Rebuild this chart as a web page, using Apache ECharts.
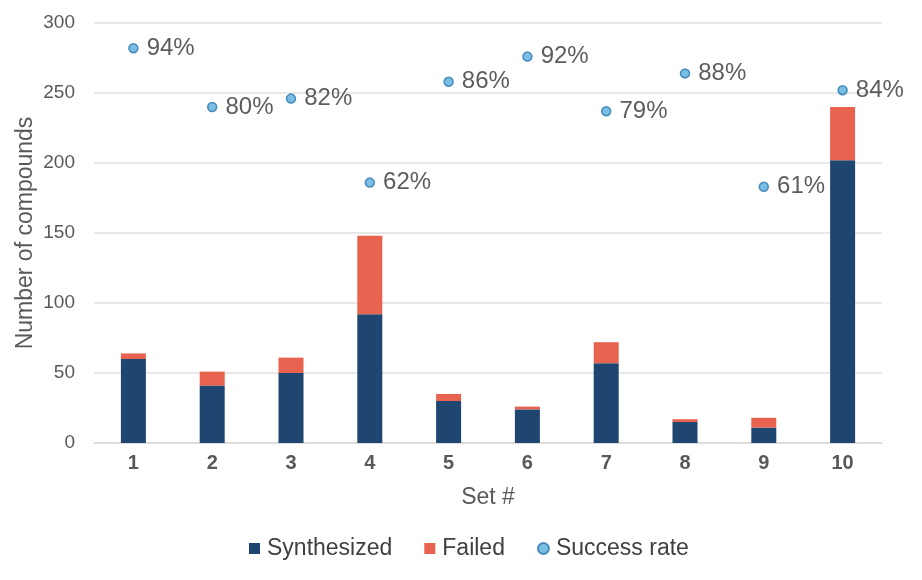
<!DOCTYPE html>
<html>
<head>
<meta charset="utf-8">
<script src="https://cdn.jsdelivr.net/npm/echarts@6/dist/echarts.min.js"></script>
<style>html,body{margin:0;padding:0;background:#fff}#c{width:922px;height:580px}</style>
</head>
<body>
<div id="c"></div>
<script>
var categories = ['1','2','3','4','5','6','7','8','9','10'];
var synthesized = [60, 41, 50, 92, 30, 24, 57, 15, 11, 202];
var failed = [4, 10, 11, 56, 5, 2, 15, 2, 7, 38];
var successRate = [0.94, 0.80, 0.82, 0.62, 0.86, 0.92, 0.79, 0.88, 0.61, 0.84];
var yTicks = [0, 50, 100, 150, 200, 250, 300];

var font = '"Liberation Sans", Arial, sans-serif';
var chart = echarts.init(document.getElementById('c'));
chart.setOption({
  animation: false,
  textStyle: { fontFamily: font },
  grid: { left: 94, right: 40, top: 23, bottom: 137 },
  legend: {
    data: [
      { name: 'Synthesized', icon: 'rect' },
      { name: 'Failed', icon: 'rect' },
      { name: 'Success rate', icon: 'circle' }
    ],
    bottom: 15,
    left: 244,
    itemWidth: 11,
    itemHeight: 11,
    itemGap: 32,
    textStyle: { fontSize: 23, color: '#404040', fontFamily: font, padding: [0, 0, 0, 2] }
  },
  xAxis: {
    type: 'category',
    data: categories,
    name: 'Set #',
    nameLocation: 'middle',
    nameGap: 43,
    nameMoveOverlap: false,
    nameTextStyle: { fontSize: 23, color: '#595959', fontFamily: font },
    axisLine: { lineStyle: { color: '#d9d9d9', width: 1.5 } },
    axisTick: { show: false },
    axisLabel: { fontSize: 20, fontWeight: 'bold', color: '#595959', margin: 10, fontFamily: font }
  },
  yAxis: [{
    type: 'value',
    min: yTicks[0],
    max: yTicks[yTicks.length - 1],
    interval: 50,
    name: 'Number of compounds',
    nameLocation: 'middle',
    nameGap: 57,
    nameMoveOverlap: false,
    nameTextStyle: { fontSize: 23, color: '#595959', fontFamily: font },
    axisLine: { show: false },
    axisTick: { show: false },
    axisLabel: { fontSize: 19, color: '#595959', margin: 19, fontFamily: font },
    splitLine: { lineStyle: { color: '#e0e0e0', width: 1.5 } }
  }, {
    type: 'value',
    min: 0,
    max: 1,
    show: false,
    splitLine: { show: false }
  }],
  series: [{
    name: 'Synthesized',
    type: 'bar',
    stack: 'total',
    barWidth: 25,
    data: synthesized,
    itemStyle: { color: '#1E4670' }
  }, {
    name: 'Failed',
    type: 'bar',
    stack: 'total',
    barWidth: 25,
    data: failed,
    itemStyle: { color: '#E8634F' }
  }, {
    name: 'Success rate',
    type: 'scatter',
    yAxisIndex: 1,
    data: successRate,
    symbolSize: 9,
    itemStyle: { color: '#5AAEDD', borderColor: '#2C78B0', borderWidth: 1.5 },
    label: {
      show: true,
      position: 'right',
      distance: 8,
      fontSize: 24,
      color: '#333333',
      fontFamily: font,
      formatter: function (p) { return Math.round(p.value * 100) + '%'; }
    }
  }]
});
</script>
</body>
</html>
